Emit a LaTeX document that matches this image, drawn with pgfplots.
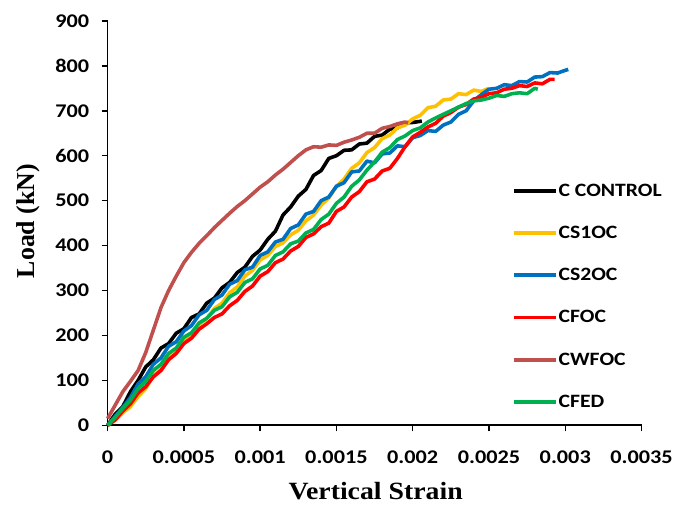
\documentclass[border=0pt]{standalone}
\usepackage{pgfplots}
\pgfplotsset{compat=1.18}
\usepackage{fontspec}
\setmainfont{Carlito}[FakeStretch=1.15]
\newfontfamily\labelfont{Liberation Serif}[FakeStretch=1.12]
\newfontfamily\ylabelfont{Liberation Serif}
\definecolor{cyel}{HTML}{FFC000}
\definecolor{cblu}{HTML}{0070C0}
\definecolor{cred}{HTML}{FF0000}
\definecolor{cbrn}{HTML}{C0504D}
\definecolor{cgrn}{HTML}{00B050}
\begin{document}
\begin{tikzpicture}
\begin{axis}[
  scale only axis, width=536bp, height=406bp,
  xmin=0, xmax=0.0035, ymin=0, ymax=900,
  axis lines*=left, axis line style={line width=1.8bp},
  tick align=outside, major tick length=6bp,
  tick style={line width=1.5bp, black},
  xtick={0,0.0005,0.001,0.0015,0.002,0.0025,0.003,0.0035},
  xticklabels={0,0.0005,0.001,0.0015,0.002,0.0025,0.003,0.0035},
  scaled x ticks=false,
  ytick={0,100,...,900},
  /pgf/number format/assume math mode=true,
  ticklabel style={font=\bfseries\fontsize{19.5}{19.5}\selectfont},
  xticklabel style={yshift=-16bp},
  yticklabel style={xshift=-9bp},
  xlabel={Vertical Strain},
  ylabel={Load (kN)},
  xlabel style={font=\labelfont\bfseries\fontsize{25}{25}\selectfont, at={(axis description cs:0.502,-0.162)}, anchor=center},
  ylabel style={font=\ylabelfont\bfseries\fontsize{26}{26}\selectfont, at={(axis description cs:-0.149,0.505)}, anchor=center, rotate=0},
  legend style={at={(axis description cs:0.757,0.600)}, anchor=north west, draw=none, fill=none,
    font=\bfseries\fontsize{19}{19}\selectfont, row sep=26.5bp, inner sep=0pt,
    nodes={inner sep=1bp}},
  legend cell align=left,
  legend image code/.code={\draw[#1, line width=3.8bp] (0bp,0bp) -- (42bp,0bp);},
  clip=false,
  every axis plot/.append style={line width=3.6bp, line join=round},
]
\addplot[black] coordinates {
(0,0)(0.00005,25)(0.0001,42)(0.00015,75)(0.0002,100)(0.00025,130)(0.0003,146)(0.00035,172)(0.0004,182)(0.00045,205)(0.0005,215)(0.00055,240)(0.0006,248)(0.00065,272)(0.0007,283)(0.00075,306)(0.0008,318)(0.00085,340)(0.0009,352)(0.00095,376)(0.001,390)(0.00105,414)(0.0011,432)(0.00115,468)(0.0012,486)(0.00125,510)(0.0013,525)(0.00135,556)(0.0014,567)(0.00145,594)(0.0015,600)(0.00155,612)(0.0016,613)(0.00165,626)(0.0017,628)(0.00175,643)(0.0018,646)(0.00185,659)(0.0019,662)(0.00195,673)(0.002,674)(0.00206,677)
};
\addlegendentry{C CONTROL}
\addplot[cyel] coordinates {
(0,0)(0.00005,12)(0.0001,28)(0.00015,42)(0.0002,64)(0.00025,82)(0.0003,110)(0.00035,125)(0.0004,150)(0.00045,164)(0.0005,188)(0.00055,202)(0.0006,224)(0.00065,238)(0.0007,260)(0.00075,272)(0.0008,295)(0.00085,308)(0.0009,332)(0.00095,345)(0.001,368)(0.00105,378)(0.0011,398)(0.00115,406)(0.0012,424)(0.00125,434)(0.0013,455)(0.00135,468)(0.0014,490)(0.00145,506)(0.0015,532)(0.00155,548)(0.0016,572)(0.00165,584)(0.0017,607)(0.00175,618)(0.0018,638)(0.00185,646)(0.0019,662)(0.00195,668)(0.002,682)(0.00205,690)(0.0021,707)(0.00215,710)(0.0022,724)(0.00225,726)(0.0023,738)(0.00235,736)(0.0024,746)(0.00245,743)(0.0025,750)
};
\addlegendentry{CS1OC}
\addplot[cblu] coordinates {
(0,0)(0.00005,20)(0.0001,40)(0.00015,62)(0.0002,92)(0.00025,108)(0.0003,136)(0.00035,150)(0.0004,176)(0.00045,186)(0.0005,210)(0.00055,222)(0.0006,246)(0.00065,256)(0.0007,280)(0.00075,290)(0.0008,314)(0.00085,322)(0.0009,346)(0.00095,352)(0.001,378)(0.00105,386)(0.0011,408)(0.00115,414)(0.0012,438)(0.00125,446)(0.0013,470)(0.00135,476)(0.0014,500)(0.00145,508)(0.0015,532)(0.00155,540)(0.0016,564)(0.00165,566)(0.0017,588)(0.00175,584)(0.0018,604)(0.00185,606)(0.0019,622)(0.00195,620)(0.002,640)(0.00205,645)(0.0021,656)(0.00215,654)(0.0022,668)(0.00225,675)(0.0023,692)(0.00235,700)(0.0024,722)(0.00245,736)(0.0025,748)(0.00255,750)(0.0026,758)(0.00265,756)(0.0027,765)(0.00275,764)(0.0028,775)(0.00285,776)(0.0029,785)(0.00295,784)(0.003,790)(0.00302,792)
};
\addlegendentry{CS2OC}
\addplot[cred] coordinates {
(0,0)(0.00005,12)(0.0001,32)(0.00015,48)(0.0002,72)(0.00025,86)(0.0003,108)(0.00035,122)(0.0004,146)(0.00045,160)(0.0005,182)(0.00055,194)(0.0006,214)(0.00065,226)(0.0007,240)(0.00075,248)(0.0008,266)(0.00085,278)(0.0009,298)(0.00095,310)(0.001,332)(0.00105,342)(0.0011,362)(0.00115,370)(0.0012,388)(0.00125,398)(0.0013,418)(0.00135,426)(0.0014,442)(0.00145,450)(0.0015,476)(0.00155,486)(0.0016,508)(0.00165,520)(0.0017,542)(0.00175,548)(0.0018,566)(0.00185,572)(0.0019,594)(0.00195,620)(0.002,642)(0.00205,652)(0.0021,664)(0.00215,672)(0.0022,688)(0.00225,696)(0.0023,708)(0.00235,714)(0.0024,726)(0.00245,730)(0.0025,738)(0.00255,740)(0.0026,748)(0.00265,750)(0.0027,756)(0.00275,754)(0.0028,762)(0.00285,760)(0.0029,770)(0.00293,770)
};
\addlegendentry{CFOC}
\addplot[cbrn] coordinates {
(0,15)(0.00005,45)(0.0001,75)(0.00015,98)(0.0002,122)(0.00025,162)(0.0003,212)(0.00035,262)(0.0004,300)(0.00045,332)(0.0005,362)(0.00055,385)(0.0006,405)(0.00065,422)(0.0007,440)(0.00075,456)(0.0008,472)(0.00085,487)(0.0009,500)(0.00095,515)(0.001,530)(0.00105,542)(0.0011,557)(0.00115,570)(0.0012,585)(0.00125,600)(0.0013,613)(0.00135,620)(0.0014,619)(0.00145,624)(0.0015,623)(0.00155,630)(0.0016,635)(0.00165,641)(0.0017,650)(0.00175,650)(0.0018,661)(0.00185,665)(0.0019,671)(0.00195,675)(0.00197,673)
};
\addlegendentry{CWFOC}
\addplot[cgrn] coordinates {
(0,0)(0.00005,18)(0.0001,38)(0.00015,56)(0.0002,82)(0.00025,98)(0.0003,122)(0.00035,136)(0.0004,160)(0.00045,172)(0.0005,196)(0.00055,206)(0.0006,228)(0.00065,238)(0.0007,256)(0.00075,264)(0.0008,286)(0.00085,296)(0.0009,318)(0.00095,326)(0.001,348)(0.00105,356)(0.0011,378)(0.00115,386)(0.0012,404)(0.00125,410)(0.0013,428)(0.00135,436)(0.0014,458)(0.00145,470)(0.0015,494)(0.00155,508)(0.0016,532)(0.00165,546)(0.0017,568)(0.00175,586)(0.0018,608)(0.00185,618)(0.0019,636)(0.00195,644)(0.002,656)(0.00205,662)(0.0021,675)(0.00215,684)(0.0022,692)(0.00225,700)(0.0023,708)(0.00235,716)(0.0024,722)(0.00245,724)(0.0025,728)(0.00255,734)(0.0026,732)(0.00265,738)(0.0027,740)(0.00275,738)(0.0028,750)(0.00282,748)
};
\addlegendentry{CFED}
\path[draw=none] (axis description cs:-0.2015,-0.2118) rectangle (axis description cs:1.0597,1.0517);
\end{axis}
\end{tikzpicture}
\end{document}
